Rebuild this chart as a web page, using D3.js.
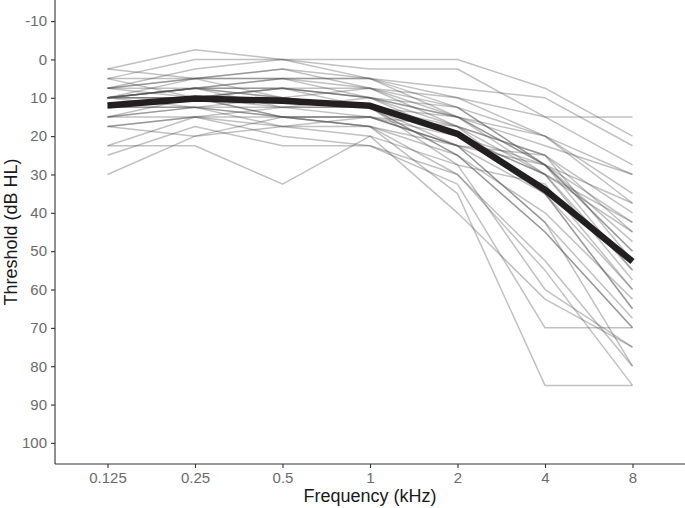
<!DOCTYPE html>
<html><head><meta charset="utf-8">
<script src="https://cdn.jsdelivr.net/npm/d3@7"></script>
<style>html,body{margin:0;padding:0;background:#fff;}svg{display:block;}</style>
</head><body>
<svg id="c" width="685" height="508"></svg>
<script>
const frequencies = ["0.125","0.25","0.5","1","2","4","8"];
const yTicks = [-10,0,10,20,30,40,50,60,70,80,90,100];
const subjects = [
  [2.5, -2.5, 0, 2.5, 2.5, 15, 15],
  [5, 0, 0, 0, 0, 7.5, 20],
  [7.5, 2.5, 0, 5, 7.5, 10, 22.5],
  [2.5, 5, 2.5, 5, 12.5, 20, 30],
  [7.5, 5, 5, 5, 10, 15, 27.5],
  [10, 5, 2.5, 7.5, 15, 20, 35],
  [5, 5, 5, 7.5, 17.5, 30, 55],
  [7.5, 7.5, 5, 5, 15, 30, 45],
  [10, 7.5, 7.5, 10, 15, 27.5, 50],
  [10, 7.5, 10, 7.5, 12.5, 27.5, 42.5],
  [10, 7.5, 5, 10, 20, 35, 65],
  [10, 7.5, 10, 12.5, 22.5, 42.5, 67.5],
  [12.5, 10, 10, 12.5, 17.5, 35, 60],
  [10, 10, 12.5, 10, 15, 27.5, 50],
  [10, 10, 10, 12.5, 25, 45, 70],
  [12.5, 12.5, 10, 12.5, 27.5, 60, 75],
  [12.5, 12.5, 15, 15, 22.5, 27.5, 55],
  [15, 12.5, 15, 17.5, 30, 52.5, 80],
  [17.5, 15, 12.5, 15, 20, 27.5, 37.5],
  [17.5, 15, 15, 15, 17.5, 25, 40],
  [15, 15, 17.5, 17.5, 25, 45, 70],
  [22.5, 22.5, 32.5, 20, 27.5, 32.5, 60],
  [25, 17.5, 22.5, 22.5, 30, 55, 85],
  [30, 20, 15, 17.5, 35, 85, 85],
  [10, 12.5, 17.5, 20, 40, 62.5, 75],
  [22.5, 15, 20, 22.5, 32.5, 70, 70],
  [12.5, 10, 15, 17.5, 22.5, 35, 65],
  [10, 7.5, 12.5, 12.5, 20, 30, 42.5],
  [7.5, 10, 7.5, 10, 17.5, 25, 52.5],
  [5, 10, 7.5, 7.5, 10, 20, 37.5],
  [10, 10, 7.5, 12.5, 25, 40, 62.5],
  [7.5, 5, 10, 12.5, 20, 30, 57.5],
  [15, 12.5, 12.5, 12.5, 15, 22.5, 30],
  [17.5, 20, 17.5, 15, 22.5, 25, 45],
  [15, 10, 15, 15, 22.5, 42.5, 80],
  [10, 7.5, 7.5, 10, 12.5, 27.5, 47.5]
];
const meanThreshold = [12, 10.2, 10.8, 12.1, 19.4, 34, 52.7];

const svg = d3.select("#c");
const pLeft = 55, pRight = 685, pTop = 0, pBottom = 464;

const x = d3.scalePoint().domain(frequencies).range([pLeft, pRight]).padding(0.6);
const y = d3.scaleLinear().domain([-15.5, 105.5]).range([pTop, pBottom]);

const line = d3.line().x((d,i)=>x(frequencies[i])).y(d=>y(d));

const g = svg.append("g");
g.selectAll("path.subj").data(subjects).enter().append("path")
  .attr("class","subj")
  .attr("d", line)
  .attr("fill","none")
  .attr("stroke","#4d4d4d")
  .attr("stroke-opacity",0.35)
  .attr("stroke-width",1.5)
  .attr("stroke-linejoin","round");

g.append("path").datum(meanThreshold)
  .attr("d", line)
  .attr("fill","none")
  .attr("stroke","#231f20")
  .attr("stroke-width",6.5)
  .attr("stroke-linejoin","round");

const xAxis = svg.append("g").attr("transform",`translate(0,${pBottom})`)
  .call(d3.axisBottom(x).tickSize(4).tickPadding(4).tickSizeOuter(0));
const yAxis = svg.append("g").attr("transform",`translate(${pLeft},0)`)
  .call(d3.axisLeft(y).tickValues(yTicks).tickFormat(d => String(d)).tickSize(4).tickPadding(4).tickSizeOuter(0));

xAxis.select(".domain").attr("d",`M${pLeft},0H${pRight}`);
yAxis.select(".domain").attr("d",`M0,${pTop}V${pBottom}`);
[xAxis,yAxis].forEach(a=>{
  a.select(".domain").attr("stroke","#333").attr("stroke-width",1.1);
  a.selectAll(".tick line").attr("stroke","#333").attr("stroke-width",1.1);
  a.selectAll(".tick text").attr("fill","#6b6b6b")
    .style("font-family","'Liberation Sans', Arial, sans-serif").style("font-size","15px");
});

svg.append("text").attr("x",(pLeft+pRight)/2).attr("y",502)
  .attr("text-anchor","middle")
  .style("font-family","'Liberation Sans', Arial, sans-serif").style("font-size","18px")
  .attr("fill","#1a1a1a").text("Frequency (kHz)");
svg.append("text").attr("transform",`translate(17,${(pTop+pBottom)/2}) rotate(-90)`)
  .attr("text-anchor","middle")
  .style("font-family","'Liberation Sans', Arial, sans-serif").style("font-size","18px")
  .attr("fill","#1a1a1a").text("Threshold (dB HL)");
</script>
</body></html>
